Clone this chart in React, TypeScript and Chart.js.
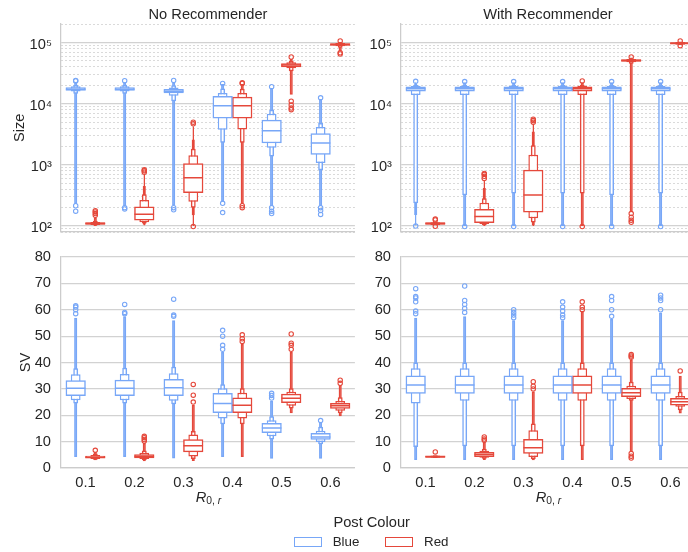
import React, { useEffect, useRef } from 'react';
import { Chart, registerables } from 'chart.js';

Chart.register(...registerables);

const fontFamily = '"Liberation Sans", Arial, Helvetica, sans-serif';
Chart.defaults.font.family = fontFamily;
Chart.defaults.font.size = 14.67;
Chart.defaults.color = '#262626';

// ---------- data ----------
const categories = ['0.1', '0.2', '0.3', '0.4', '0.5', '0.6'];
const hueNames = ['Blue', 'Red'];
const panelTitles = ['No Recommender', 'With Recommender'];
const sizeTickLabels = [100, 1000, 10000, 100000];
const svTickLabels = [0, 10, 20, 30, 40, 50, 60, 70, 80];

// letter values per category, ascending: [lo_k .. lo_1, median, hi_1 .. hi_k]
const sizeNoRecBlue = [
  [230, 14500, 15800, 16500, 17300, 18300, 19300, 20500, 22500],
  [210, 14500, 15800, 16500, 17300, 18300, 19300, 20500, 22500],
  [215, 11000, 13500, 15000, 16000, 17200, 18500, 20000, 22500],
  [250, 2310, 3760, 5800, 9300, 13200, 15000, 17700, 21000],
  [210, 1370, 1910, 2280, 3600, 5400, 6840, 7940, 18000],
  [210, 820, 1070, 1490, 2280, 3260, 4150, 4830, 12000],
];
const sizeNoRecRed = [
  [100, 102, 104, 106, 110, 114, 117, 122, 140],
  [102, 105, 110, 115, 125, 156, 207, 266, 330, 450, 700],
  [100, 150, 200, 250, 351, 615, 1050, 1440, 1840, 2600, 4300],
  [230, 2300, 3800, 5800, 9300, 12800, 15000, 17500, 21000],
  [14000, 34000, 38000, 40000, 43000, 45500, 47500, 50000, 54000],
  [72000, 82000, 87000, 90000, 93000, 96000, 98000, 100000, 102000],
];
const sizeRecBlue = [
  [102, 152, 235, 13900, 16000, 17500, 18800, 19700, 20500, 21500, 22500],
  [100, 320, 13900, 16000, 17500, 18800, 19700, 20500, 22500],
  [100, 340, 13900, 16000, 17500, 18800, 19700, 20500, 22500],
  [100, 340, 13900, 16000, 17500, 18800, 19700, 20500, 22500],
  [100, 320, 13900, 16000, 17500, 18800, 19700, 20500, 22500],
  [100, 340, 13900, 16000, 17500, 18800, 19700, 20500, 22500],
];
const sizeRecRed = [
  [102, 104, 106, 110, 114, 116, 118],
  [100, 101, 104, 108, 114, 143, 188, 241, 284, 420, 560],
  [100, 102, 114, 134, 168, 321, 820, 1470, 2090, 3500, 4700],
  [100, 340, 13900, 16000, 17500, 18800, 19700, 20500, 22500],
  [170, 45000, 47500, 49000, 51000, 52500, 54000, 55000, 57000],
  [90000, 92000, 94000, 97000, 100000, 102000, 104000],
];
const svNoRecBlue = [
  [4.2, 24.5, 25.7, 27.4, 30.2, 33.1, 35.5, 37.8, 57],
  [4.2, 24.5, 25.7, 27.4, 30.2, 33.3, 35.6, 38, 57.5],
  [3.6, 24.2, 25.5, 27.4, 30.4, 33.6, 35.9, 38.4, 56],
  [4.2, 16.6, 18.8, 21, 24.5, 28.3, 30.2, 31.8, 44],
  [3.5, 10.8, 12, 13.4, 15.2, 16.9, 18.1, 19.6, 25.5],
  [3.5, 9, 9.9, 10.8, 11.8, 13.1, 14.1, 15.6, 17.5],
];
const svNoRecRed = [
  [2.9, 3.1, 3.4, 3.7, 4.1, 4.5, 4.9, 5.5, 6.3],
  [2.6, 3.0, 3.4, 3.8, 4.4, 5.1, 5.8, 6.6, 9.5],
  [2.7, 3.4, 4.4, 6.1, 8.4, 10.8, 12.7, 14, 24],
  [4.2, 16.6, 18.8, 21, 23.8, 26.6, 28.5, 30.2, 47],
  [20.8, 22.6, 23.6, 24.8, 26.4, 28, 28.9, 30.2, 44],
  [19.6, 20.8, 21.7, 22.6, 23.6, 24.5, 25.4, 26.8, 31.5],
];
const svRecBlue = [
  [3, 8, 24.5, 28.3, 31.5, 34.9, 37.8, 40, 57],
  [3, 8.2, 25.5, 28.3, 31.5, 34.9, 37.8, 40, 57.5],
  [3, 8.2, 25.5, 28.3, 31.5, 34.9, 37.8, 40, 56],
  [3, 8.2, 25.5, 28.3, 31.5, 34.9, 37.8, 40, 56],
  [3, 8.2, 25.5, 28.3, 31.5, 34.9, 37.8, 40, 56.5],
  [3, 8.2, 25.5, 28.3, 31.5, 34.9, 37.8, 40, 59],
];
const svRecRed = [
  [3.8, 3.9, 4.0, 4.3, 4.6, 4.7, 4.8],
  [3.0, 3.5, 3.9, 4.3, 5.1, 5.9, 6.5, 7.3, 10],
  [2.9, 3.4, 4.2, 5.5, 7.7, 10.9, 14.3, 16.9, 29],
  [3, 8.2, 25.5, 28.3, 31.5, 34.9, 37.8, 40, 59.5],
  [6, 25.5, 26.2, 27, 28.5, 30.2, 31.2, 32.7, 41],
  [20.7, 21.9, 23.2, 23.8, 25.1, 26.4, 27.3, 28.9, 35],
];

// outliers per category
const sizeNoRecBlueOut = [[24000, 23500, 215, 175], [23800, 200, 190], [24000, 200, 185], [21500, 235, 166], [19000, 200, 175, 160], [12500, 200, 180, 155]];
const sizeNoRecRedOut = [[150, 160, 170, 178], [760, 800, 830], [4700, 5000, 98], [22000, 21500, 215, 200], [58000, 11000, 9500, 8500, 8000], [68000, 65000, 106000]];
const sizeRecBlueOut = [[23200, 100], [23000, 98], [23000, 98], [23000, 98], [23000, 98], [23000, 98]];
const sizeRecRedOut = [[126, 130, 99], [600, 650, 700, 725], [5000, 5300, 5600], [23500, 98], [58000, 160, 140, 125, 115], [106000, 89000]];
const svNoRecBlueOut = [[58.5, 60, 61, 61.5], [58.5, 59, 62], [57.5, 58, 64], [45, 46.5, 50, 52.2], [26.5, 27.5, 28.3], [18]];
const svNoRecRedOut = [[6.7], [10.2, 10.8, 11.5, 12], [25, 27.6, 31.7], [48, 49, 50.5], [45, 46.5, 47.3, 50.8], [32.1, 33.3]];
const svRecBlueOut = [[58.5, 59.5, 63, 64.5, 65, 68], [59, 60.5, 62, 63.5, 69], [57, 58, 59, 60], [57, 58, 59.5, 61, 63], [57.5, 60, 63.5, 65], [60, 63.5, 64.5, 65.5]];
const svRecRedOut = [[6.1], [10.5, 11, 11.8], [30, 31, 32.7], [60, 61, 63], [42, 42.5, 43, 5.5, 4.5, 3.8], [36.8]];

// ---------- style ----------
const hueColors = ['#78a7f7', '#e5483b'];
const hueOffsets = [-0.2, 0.2];
const halfBox = 0.2;
const levelWidths = [1, 0.5, 0.25, 0.16, 0.08];
const gridColor = '#d2d2d2';
const minorGridColor = '#d6d6d6';
const spineColor = '#cccccc';
const sizeMin = 80;
const sizeMax = 204000;
const sup: Record<number, string> = { 1: '¹', 2: '²', 3: '³', 4: '⁴', 5: '⁵' };

function logTickValues() {
  const vals: number[] = [];
  for (let e = 1; e <= 5; e++) {
    for (let m = 1; m <= 9; m++) {
      const v = m * Math.pow(10, e);
      if (v >= sizeMin && v <= sizeMax) vals.push(v);
    }
  }
  return vals;
}

function buildDatasets(lvs: number[][][], outs: number[][][]) {
  const medians: any[] = [];
  const levels: any[][][] = [];
  const outliers: any[] = [];
  lvs.forEach((series, h) => {
    const color = hueColors[h];
    const off = hueOffsets[h];
    const medData: any[] = [];
    series.forEach((lv, i) => {
      const k = (lv.length - 1) / 2;
      const cx = i + off;
      medData.push({ x: cx - halfBox, y: lv[k] }, { x: cx + halfBox, y: lv[k] }, { x: cx + halfBox, y: null });
      for (let j = 1; j <= k; j++) {
        if (!levels[j - 1]) levels[j - 1] = [[], []];
        levels[j - 1][h].push({ x: cx, y: [lv[k - j], lv[k + j]] });
      }
    });
    medians.push({
      type: 'line', label: hueNames[h] + ' median', data: medData, borderColor: color, borderWidth: 1.5,
      pointRadius: 0, spanGaps: false, fill: false, tension: 0, xAxisID: 'x', yAxisID: 'y',
    });
    const outData: any[] = [];
    outs[h].forEach((vals, i) => vals.forEach((v) => outData.push({ x: i + off, y: v })));
    outliers.push({
      type: 'scatter', label: hueNames[h] + ' outliers', data: outData, pointRadius: 2.2, borderWidth: 1.1,
      borderColor: color, backgroundColor: 'rgba(255,255,255,0)', xAxisID: 'x', yAxisID: 'y',
    });
  });
  const bars: any[] = [];
  levels.forEach((pair, j) => {
    pair.forEach((data, h) => {
      bars.push({
        type: 'bar', label: hueNames[h] + ' level ' + (j + 1), data, grouped: false,
        categoryPercentage: 1, barPercentage: levelWidths[Math.min(j, levelWidths.length - 1)],
        backgroundColor: j >= 3 ? hueColors[h] : '#ffffff', borderColor: hueColors[h], borderWidth: 1.5,
        borderSkipped: false, xAxisID: 'x', yAxisID: 'y',
      });
    });
  });
  return [...medians, ...bars, ...outliers];
}

type PanelProps = {
  kind: 'size' | 'sv';
  title?: string;
  yTitle?: string;
  showX: boolean;
  lv: number[][][];
  out: number[][][];
  left: number;
  top: number;
  width: number;
  height: number;
};

function makeConfig(p: PanelProps): any {
  const isSize = p.kind === 'size';
  const scales: any = {
    x: {
      type: 'linear', min: -0.5, max: 5.5, offset: false,
      afterBuildTicks: (s: any) => { s.ticks = categories.map((_, i) => ({ value: i })); },
      afterFit: (s: any) => { s.height = p.showX ? 32 : 8; s.paddingLeft = 0; s.paddingRight = 0; },
      ticks: {
        display: p.showX, autoSkip: false, maxRotation: 0, padding: 6,
        callback: (v: any) => categories[Math.round(v)] ?? '',
      },
      grid: { display: false, drawTicks: false, offset: false },
      border: { display: true, color: spineColor, width: 1.25 },
    },
  };
  const yTitle = {
    display: !!p.yTitle, text: p.yTitle || '', font: { size: 14.67 },
    padding: { top: isSize ? 10.7 : 17.4, bottom: 0 },
  };
  if (isSize) {
    scales.y = {
      type: 'logarithmic', position: 'left', min: sizeMin, max: sizeMax,
      afterBuildTicks: (s: any) => {
        s.ticks = logTickValues().map((v) => ({ value: v, major: sizeTickLabels.includes(v) }));
      },
      afterFit: (s: any) => { s.width = 61; s.paddingTop = 0; s.paddingBottom = 0; },
      ticks: {
        autoSkip: false, padding: 9, labelOffset: 2,
        callback: (v: any) => (sizeTickLabels.includes(v) ? '10' + sup[Math.round(Math.log10(v))] : ''),
      },
      grid: {
        drawTicks: false, lineWidth: 1.25,
        color: (ctx: any) => (ctx.tick && sizeTickLabels.includes(ctx.tick.value) ? gridColor : 'rgba(0,0,0,0)'),
      },
      border: { display: true, color: spineColor, width: 1.25 },
      title: yTitle,
    };
    scales.y2 = {
      type: 'logarithmic', position: 'left', min: sizeMin, max: sizeMax,
      afterBuildTicks: (s: any) => {
        s.ticks = logTickValues().map((v) => ({ value: v }));
      },
      afterFit: (s: any) => { s.width = 0; s.paddingTop = 0; s.paddingBottom = 0; },
      ticks: { display: false, autoSkip: false },
      grid: {
        drawTicks: false, lineWidth: 0.9,
        color: (ctx: any) => (ctx.tick && !sizeTickLabels.includes(ctx.tick.value) ? minorGridColor : 'rgba(0,0,0,0)'),
      },
      border: { display: false, dash: [2, 2] },
    };
  } else {
    scales.y = {
      type: 'linear', position: 'left', min: 0, max: 80,
      afterBuildTicks: (s: any) => { s.ticks = svTickLabels.map((v) => ({ value: v })); },
      afterFit: (s: any) => { s.width = 61; s.paddingTop = 0; s.paddingBottom = 0; },
      ticks: { autoSkip: false, padding: 10 },
      grid: { drawTicks: false, lineWidth: 1.25, color: gridColor },
      border: { display: true, color: spineColor, width: 1.25 },
      title: yTitle,
    };
  }
  return {
    type: 'bar',
    data: { datasets: buildDatasets(p.lv, p.out) },
    options: {
      responsive: false,
      animation: false,
      devicePixelRatio: 1,
      events: [],
      layout: { padding: { left: 0, right: 4, top: p.showX ? 17 : 0, bottom: 0 } },
      plugins: {
        legend: { display: false },
        tooltip: { enabled: false },
        title: {
          display: !!p.title, text: p.title || '', fullSize: false, align: 'center',
          padding: { top: 6, bottom: 0 }, font: { size: 14.67, weight: 'normal' }, color: '#262626',
        },
      },
      scales,
    },
  };
}

function Panel(p: PanelProps) {
  const ref = useRef<HTMLCanvasElement>(null);
  useEffect(() => {
    const chart = new Chart(ref.current as HTMLCanvasElement, makeConfig(p));
    return () => chart.destroy();
  }, []);
  return (
    <canvas
      ref={ref}
      width={p.width}
      height={p.height}
      style={{ position: 'absolute', left: p.left, top: p.top, width: p.width, height: p.height }}
    />
  );
}

function XTitle({ center }: { center: number }) {
  return (
    <div
      style={{
        position: 'absolute', left: center - 100, top: 487, width: 200, height: 20, lineHeight: '20px',
        textAlign: 'center', fontSize: 14.67, color: '#262626', whiteSpace: 'nowrap',
      }}
    >
      <span style={{ fontStyle: 'italic' }}>R</span>
      <span style={{ fontSize: 10.3, position: 'relative', top: 2 }}>
        0, <span style={{ fontStyle: 'italic' }}>r</span>
      </span>
    </div>
  );
}

function LegendEntry({ left, textLeft, color, text }: { left: number; textLeft: number; color: string; text: string }) {
  return (
    <>
      <div
        style={{
          position: 'absolute', left, top: 536.5, width: 28, height: 10, boxSizing: 'border-box',
          border: `1.5px solid ${color}`, background: '#fff',
        }}
      />
      <div style={{ position: 'absolute', left: textLeft, top: 534.4, height: 16, lineHeight: '16px', fontSize: 13.33, color: '#262626' }}>
        {text}
      </div>
    </>
  );
}

export default function App() {
  return (
    <div
      style={{
        position: 'fixed', left: 0, top: 0, width: 688, height: 552, overflow: 'hidden',
        background: '#ffffff', fontFamily,
      }}
    >
      <Panel kind="size" title={panelTitles[0]} yTitle="Size" showX={false}
        lv={[sizeNoRecBlue, sizeNoRecRed]} out={[sizeNoRecBlueOut, sizeNoRecRedOut]}
        left={0} top={0} width={360} height={240} />
      <Panel kind="size" title={panelTitles[1]} showX={false}
        lv={[sizeRecBlue, sizeRecRed]} out={[sizeRecBlueOut, sizeRecRedOut]}
        left={340} top={0} width={360} height={240} />
      <Panel kind="sv" yTitle="SV" showX={true}
        lv={[svNoRecBlue, svNoRecRed]} out={[svNoRecBlueOut, svNoRecRedOut]}
        left={0} top={240} width={360} height={260} />
      <Panel kind="sv" showX={true}
        lv={[svRecBlue, svRecRed]} out={[svRecBlueOut, svRecRedOut]}
        left={340} top={240} width={360} height={260} />
      <XTitle center={208.5} />
      <XTitle center={548.5} />
      <div
        style={{
          position: 'absolute', left: 271.7, top: 512.4, width: 200, height: 20, lineHeight: '20px',
          textAlign: 'center', fontSize: 14.67, color: '#262626',
        }}
      >
        Post Colour
      </div>
      <LegendEntry left={294} textLeft={332.7} color={hueColors[0]} text={hueNames[0]} />
      <LegendEntry left={385} textLeft={424} color={hueColors[1]} text={hueNames[1]} />
    </div>
  );
}
